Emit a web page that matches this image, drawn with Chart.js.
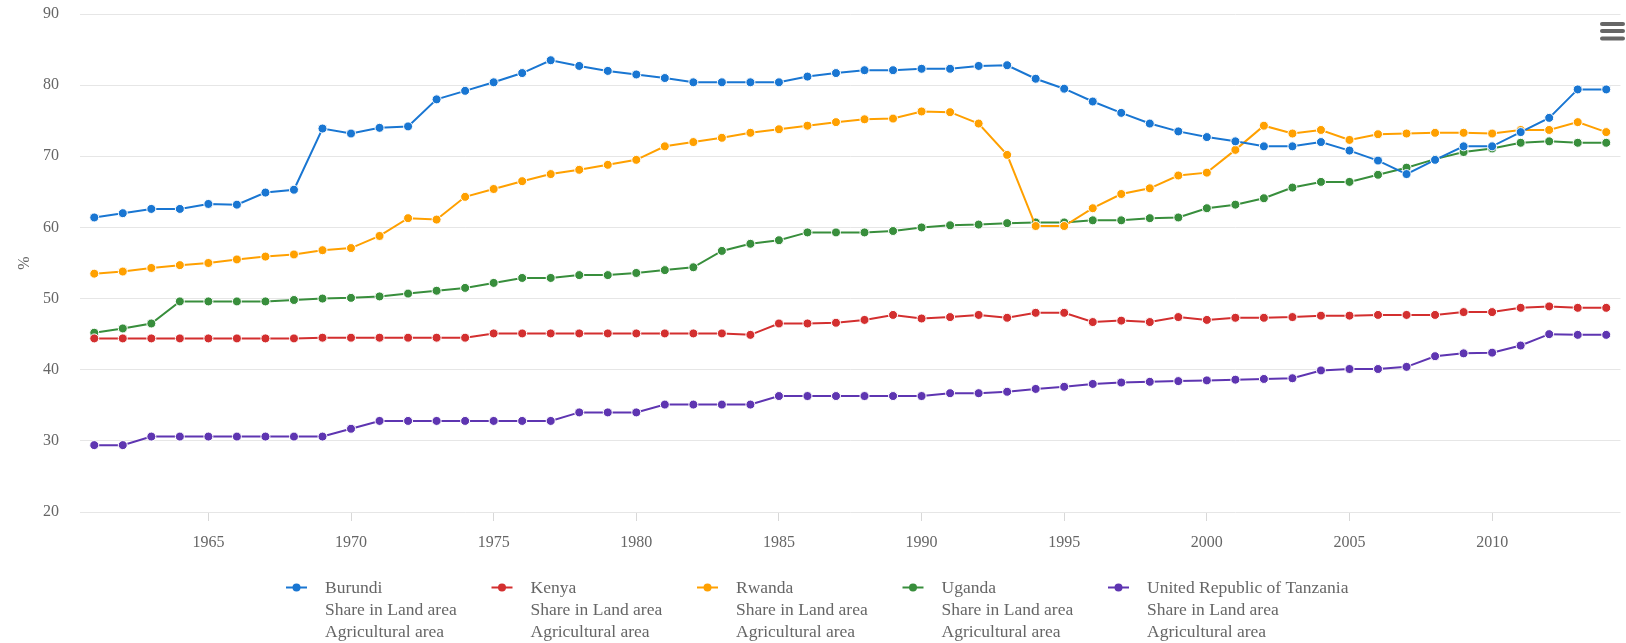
<!DOCTYPE html>
<html>
<head>
<meta charset="utf-8">
<title>Share in Land area - Agricultural area</title>
<script src="https://cdn.jsdelivr.net/npm/chart.js@4.4.1/dist/chart.umd.min.js"></script>
<style>
  body { margin: 0; background: #fff; }
  canvas { display: block; }
</style>
</head>
<body>
<canvas id="myChart" width="1626" height="643"></canvas>
<script>
const years = [
    1961, 1962, 1963, 1964, 1965, 1966, 1967, 1968, 1969, 1970,
    1971, 1972, 1973, 1974, 1975, 1976, 1977, 1978, 1979, 1980,
    1981, 1982, 1983, 1984, 1985, 1986, 1987, 1988, 1989, 1990,
    1991, 1992, 1993, 1994, 1995, 1996, 1997, 1998, 1999, 2000,
    2001, 2002, 2003, 2004, 2005, 2006, 2007, 2008, 2009, 2010,
    2011, 2012, 2013, 2014
];

const countries = ['Burundi', 'Kenya', 'Rwanda', 'Uganda', 'United Republic of Tanzania'];
const element = 'Share in Land area';
const item = 'Agricultural area';
const yTicks = [20, 30, 40, 50, 60, 70, 80, 90];

const burundi = [
    61.4, 62.0, 62.6, 62.6, 63.3, 63.2, 64.9, 65.3, 73.9, 73.2,
    74.0, 74.2, 78.0, 79.2, 80.4, 81.7, 83.5, 82.7, 82.0, 81.5,
    81.0, 80.4, 80.4, 80.4, 80.4, 81.2, 81.7, 82.1, 82.1, 82.3,
    82.3, 82.7, 82.8, 80.9, 79.5, 77.7, 76.1, 74.6, 73.5, 72.7,
    72.1, 71.4, 71.4, 72.0, 70.8, 69.4, 67.5, 69.5, 71.4, 71.4,
    73.4, 75.4, 79.4, 79.4
];
const kenya = [
    44.4, 44.4, 44.4, 44.4, 44.4, 44.4, 44.4, 44.4, 44.5, 44.5,
    44.5, 44.5, 44.5, 44.5, 45.1, 45.1, 45.1, 45.1, 45.1, 45.1,
    45.1, 45.1, 45.1, 44.9, 46.5, 46.5, 46.6, 47.0, 47.7, 47.2,
    47.4, 47.7, 47.3, 48.0, 48.0, 46.7, 46.9, 46.7, 47.4, 47.0,
    47.3, 47.3, 47.4, 47.6, 47.6, 47.7, 47.7, 47.7, 48.1, 48.1,
    48.7, 48.9, 48.7, 48.7
];
const rwanda = [
    53.5, 53.8, 54.3, 54.7, 55.0, 55.5, 55.9, 56.2, 56.8, 57.1,
    58.8, 61.3, 61.1, 64.3, 65.4, 66.5, 67.5, 68.1, 68.8, 69.5,
    71.4, 72.0, 72.6, 73.3, 73.8, 74.3, 74.8, 75.2, 75.3, 76.3,
    76.2, 74.6, 70.2, 60.2, 60.2, 62.7, 64.7, 65.5, 67.3, 67.7,
    70.9, 74.3, 73.2, 73.7, 72.3, 73.1, 73.2, 73.3, 73.3, 73.2,
    73.7, 73.7, 74.8, 73.4
];
const uganda = [
    45.2, 45.8, 46.5, 49.6, 49.6, 49.6, 49.6, 49.8, 50.0, 50.1,
    50.3, 50.7, 51.1, 51.5, 52.2, 52.9, 52.9, 53.3, 53.3, 53.6,
    54.0, 54.4, 56.7, 57.7, 58.2, 59.3, 59.3, 59.3, 59.5, 60.0,
    60.3, 60.4, 60.6, 60.7, 60.7, 61.0, 61.0, 61.3, 61.4, 62.7,
    63.2, 64.1, 65.6, 66.4, 66.4, 67.4, 68.4, 69.6, 70.6, 71.1,
    71.9, 72.1, 71.9, 71.9
];
const tanzania = [
    29.4, 29.4, 30.6, 30.6, 30.6, 30.6, 30.6, 30.6, 30.6, 31.7,
    32.8, 32.8, 32.8, 32.8, 32.8, 32.8, 32.8, 34.0, 34.0, 34.0,
    35.1, 35.1, 35.1, 35.1, 36.3, 36.3, 36.3, 36.3, 36.3, 36.3,
    36.7, 36.7, 36.9, 37.3, 37.6, 38.0, 38.2, 38.3, 38.4, 38.5,
    38.6, 38.7, 38.8, 39.9, 40.1, 40.1, 40.4, 41.9, 42.3, 42.4,
    43.4, 45.0, 44.9, 44.9
];

const series = [burundi, kenya, rwanda, uganda, tanzania];
const colors = ['#1976d2', '#d32f2f', '#ffa000', '#388e3c', '#5e35b1'];

const FONT = "'Liberation Serif', 'Times New Roman', serif";
const GREY = '#666666';

// legend under the plot, three lines per country
const legendPlugin = {
    id: 'faoLegend',
    afterDraw(chart) {
        const ctx = chart.ctx;
        const startX = 325;
        const stepX = 205.5;
        const firstY = 588.5;
        const lineH = 22;
        ctx.save();
        ctx.font = '17.5px ' + FONT;
        ctx.textBaseline = 'middle';
        ctx.textAlign = 'left';
        for (let i = 0; i < countries.length; i++) {
            const x = startX + i * stepX;
            const c = colors[i];
            ctx.strokeStyle = c;
            ctx.lineWidth = 2;
            ctx.beginPath();
            ctx.moveTo(x - 39, firstY - 1);
            ctx.lineTo(x - 18, firstY - 1);
            ctx.stroke();
            ctx.fillStyle = c;
            ctx.beginPath();
            ctx.arc(x - 28.5, firstY - 1, 4, 0, Math.PI * 2);
            ctx.fill();

            ctx.fillStyle = GREY;
            ctx.fillText(countries[i], x, firstY);
            ctx.fillText(element, x, firstY + lineH);
            ctx.fillText(item, x, firstY + lineH * 2);
        }
        ctx.restore();
    }
};

// the export menu button in the top right corner
const menuPlugin = {
    id: 'menuIcon',
    afterDraw(chart) {
        const ctx = chart.ctx;
        ctx.save();
        ctx.strokeStyle = GREY;
        ctx.lineWidth = 4;
        ctx.lineCap = 'round';
        for (const y of [24, 31, 38.5]) {
            ctx.beginPath();
            ctx.moveTo(1602, y);
            ctx.lineTo(1623, y);
            ctx.stroke();
        }
        ctx.restore();
    }
};

const ctx = document.getElementById('myChart').getContext('2d');

const datasets = [];
for (let i = 0; i < countries.length; i++) {
    datasets.push({
        label: countries[i],
        data: series[i],
        borderColor: colors[i],
        backgroundColor: colors[i],
        pointBackgroundColor: colors[i],
        pointBorderColor: '#ffffff',
        pointBorderWidth: 1,
        pointRadius: 4.5,
        borderWidth: 2,
        tension: 0,
        fill: false
    });
}

var myChart = new Chart(ctx, { // eslint-disable-line
    type: 'line',
    data: {
        labels: years,
        datasets: datasets
    },
    options: {
        responsive: false,
        animation: false,
        layout: {
            padding: { top: 14, right: 0, bottom: 91, left: 0 }
        },
        plugins: {
            legend: { display: false },
            tooltip: { enabled: false }
        },
        scales: {
            x: {
                offset: true,
                grid: {
                    offset: false,
                    drawOnChartArea: false,
                    drawTicks: true,
                    tickLength: 9,
                    tickColor: (c) => (years[c.index] % 5 === 0 ? '#d8d8d8' : 'rgba(0,0,0,0)')
                },
                border: { display: false },
                ticks: {
                    autoSkip: false,
                    maxRotation: 0,
                    padding: 12,
                    color: GREY,
                    font: { family: FONT, size: 16 },
                    callback: (value, index) => (years[index] % 5 === 0 ? String(years[index]) : '')
                },
                afterFit: (scale) => {
                    scale.height = 40;
                    scale.paddingLeft = 0;
                    scale.paddingRight = 0;
                }
            },
            y: {
                min: yTicks[0],
                max: yTicks[yTicks.length - 1],
                border: { display: false },
                grid: {
                    color: '#e6e6e6',
                    lineWidth: 1,
                    drawTicks: false
                },
                ticks: {
                    stepSize: 10,
                    padding: 21,
                    color: GREY,
                    font: { family: FONT, size: 16 }
                },
                title: {
                    display: true,
                    text: '%',
                    color: GREY,
                    padding: { top: 15 },
                    font: { family: FONT, size: 16 }
                },
                afterFit: (scale) => {
                    scale.width = 80;
                    scale.paddingTop = 0;
                    scale.paddingBottom = 0;
                }
            }
        }
    },
    plugins: [legendPlugin, menuPlugin]
});
</script>
</body>
</html>
